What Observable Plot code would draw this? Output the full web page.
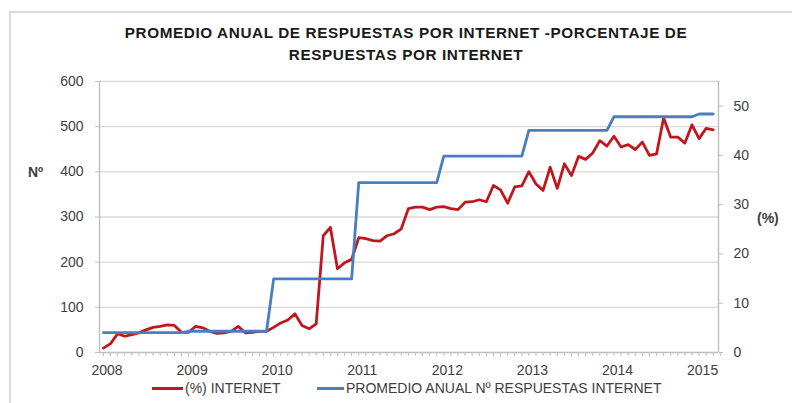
<!DOCTYPE html>
<html>
<head>
<meta charset="utf-8">
<script src="https://cdn.jsdelivr.net/npm/d3@7"></script>
<script src="https://cdn.jsdelivr.net/npm/@observablehq/plot@0.6"></script>
<style>
  html, body { margin: 0; padding: 0; background: #fff; }
  body { width: 792px; height: 403px; position: relative; overflow: hidden; font-family: "Liberation Sans", Arial, sans-serif; }
  #frame { position: absolute; left: 9px; top: 11px; width: 800px; height: 420px; border-top: 2px solid #d9d9d9; border-left: 2px solid #d9d9d9; }
  #title { position: absolute; left: 20px; width: 772px; top: 22px; text-align: center; font-weight: bold; font-size: 15.3px; letter-spacing: 0.6px; line-height: 22px; color: #1a1a1a; }
  #chart { position: absolute; left: 0; top: 60px; }
  .axlab { position: absolute; font-weight: bold; font-size: 14px; color: #404040; }
  .legend { position: absolute; top: 380px; font-size: 14px; color: #404040; line-height: 16px; white-space: nowrap; }
  .sw { position: absolute; height: 3px; }
</style>
</head>
<body>
<div id="frame"></div>
<div id="title">PROMEDIO ANUAL DE RESPUESTAS POR INTERNET -PORCENTAJE DE<br>RESPUESTAS POR INTERNET</div>
<div id="chart"></div>
<div class="axlab" style="left:28px; top:164px;">Nº</div>
<div class="axlab" style="left:757px; top:210px;">(%)</div>
<div id="legend"></div>
<script>
// ---- data ----
const years = [2008, 2009, 2010, 2011, 2012, 2013, 2014, 2015];
// annual average number of internet responses (left axis, Nº)
const avgResponses = [44, 47, 163, 376, 435, 492, 522, 528];
// monthly % of internet responses, Jan 2008 .. Mar 2015 (right axis, %)
const pctInternet = [
  0.9, 1.8, 3.8, 3.3, 3.65, 4.0, 4.6, 5.1, 5.3, 5.6, 5.5, 4.1,
  4.1, 5.3, 5.0, 4.3, 3.9, 4.0, 4.3, 5.3, 4.0, 4.1, 4.3, 4.3,
  5.1, 6.0, 6.6, 7.85, 5.5, 4.8, 5.8, 23.7, 25.4, 17.0, 18.2, 18.9,
  23.3, 23.1, 22.7, 22.6, 23.7, 24.1, 25.1, 29.2, 29.5, 29.5, 29.0, 29.5,
  29.6, 29.2, 29.0, 30.5, 30.6, 31.0, 30.6, 33.9, 33.0, 30.3, 33.6, 33.8,
  36.7, 34.2, 32.9, 37.6, 33.3, 38.3, 35.9, 39.8, 39.2, 40.5, 43.0, 41.9,
  43.9, 41.7, 42.2, 41.2, 42.7, 40.0, 40.3, 47.6, 43.7, 43.7, 42.5, 46.2,
  43.4, 45.5, 45.2
];
const leftTicks = [0, 100, 200, 300, 400, 500, 600];
const rightTicks = [0, 10, 20, 30, 40, 50];
const legendLabels = ["(%) INTERNET", "PROMEDIO ANUAL Nº RESPUESTAS INTERNET"];

const RED = "#c0171f", BLUE = "#4a7ebf";
const leftMax = 600, rightMax = 55;
const toLeft = p => p * leftMax / rightMax;

const redData = pctInternet.map((p, i) => ({m: i, v: toLeft(p)}));
const blueData = pctInternet.map((_, i) => ({m: i, v: avgResponses[Math.floor(i / 12)]}));
const xMin = -0.56, xMax = 86.74;

const chart = Plot.plot({
  width: 792,
  height: 320,
  marginLeft: 99,
  marginRight: 74,
  marginTop: 21,
  marginBottom: 28,
  style: {fontFamily: "'Liberation Sans', Arial, sans-serif", fontSize: "14px", color: "#404040", background: "transparent"},
  x: {domain: [xMin, xMax]},
  y: {domain: [0, leftMax]},
  marks: [
    Plot.ruleY(leftTicks.slice(1), {stroke: "#d9d9d9", strokeWidth: 1.4}),
    Plot.ruleX([xMin, xMax], {stroke: "#bfbfbf", strokeWidth: 1.4}),
    Plot.ruleY([0], {stroke: "#bfbfbf", strokeWidth: 1.4}),
    Plot.axisY({anchor: "left", ticks: leftTicks, tickSize: 4, tickPadding: 12, label: null, stroke: "#bfbfbf", fill: "#404040"}),
    Plot.axisY({anchor: "right", ticks: rightTicks.map(toLeft), tickFormat: v => String(Math.round(v * rightMax / leftMax)), tickSize: 4, tickPadding: 11, label: null, stroke: "#bfbfbf", fill: "#404040"}),
    Plot.axisX({ticks: d3.range(0, pctInternet.length + 1), tickSize: 4, tickFormat: () => "", label: null, stroke: "#bfbfbf"}),
    Plot.axisX({ticks: years.map(y => (y - years[0]) * 12 + 0.5), tickFormat: v => String(years[Math.round((v - 0.5) / 12)]), tickSize: 0, tickPadding: 13, label: null, fill: "#404040"}),
    Plot.line(redData, {x: "m", y: "v", stroke: RED, strokeWidth: 2.8}),
    Plot.line(blueData, {x: "m", y: "v", stroke: BLUE, strokeWidth: 2.8})
  ]
});
document.getElementById("chart").appendChild(chart);

// legend
const lg = document.getElementById("legend");
const items = [
  {label: legendLabels[0], color: RED, sx: 152, sw: 31, tx: 185},
  {label: legendLabels[1], color: BLUE, sx: 317, sw: 27, tx: 346}
];
items.forEach(it => {
  const s = document.createElement("div");
  s.className = "sw";
  s.style.left = it.sx + "px"; s.style.width = it.sw + "px"; s.style.top = "387px"; s.style.background = it.color;
  lg.appendChild(s);
  const t = document.createElement("div");
  t.className = "legend";
  t.style.left = it.tx + "px";
  t.textContent = it.label;
  lg.appendChild(t);
});
</script>
</body>
</html>
